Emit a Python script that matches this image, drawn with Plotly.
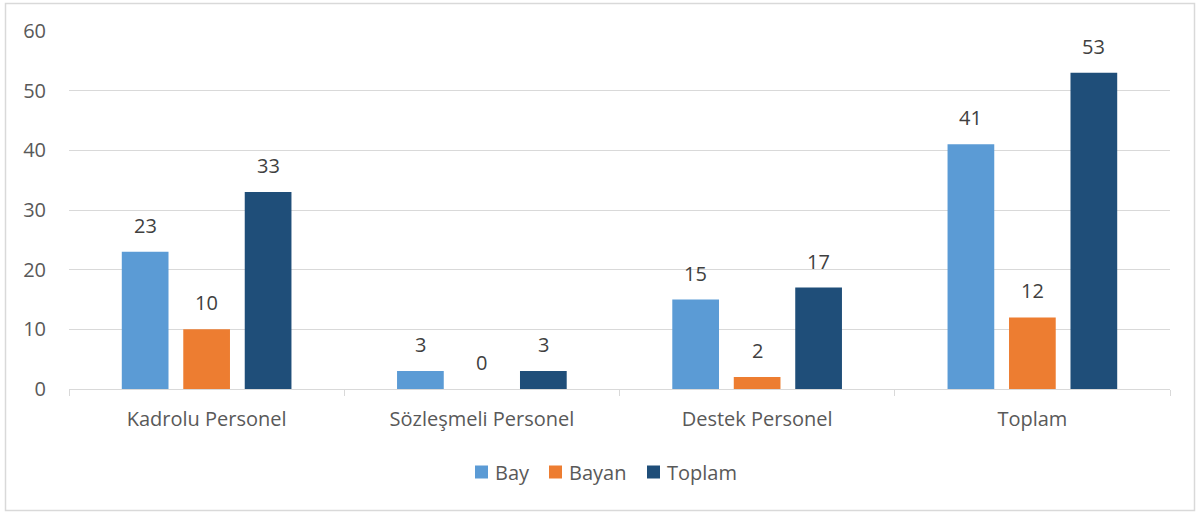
import plotly.graph_objects as go

categories = ["Kadrolu Personel", "Sözleşmeli Personel", "Destek Personel", "Toplam"]
bay = [23, 3, 15, 41]
bayan = [10, 0, 2, 12]
toplam = [33, 3, 17, 53]
series_names = ["Bay", "Bayan", "Toplam"]
colors = ["#5B9BD5", "#ED7D31", "#1F4E79"]

W, H = 1200, 514
L, R, T, B = 69, 30, 31, 125
pw, ph = W - L - R, H - T - B
BARGAP = 0.33
BARGROUPGAP = 0.24

font_family = "'Open Sans', sans-serif"

fig = go.Figure()
for name, vals, col in zip(series_names, [bay, bayan, toplam], colors):
    fig.add_trace(go.Bar(
        name=name, x=categories, y=vals, marker_color=col,
        marker_line_width=0, cliponaxis=False, showlegend=False,
    ))

def px2paper_x(px):
    return (px - L) / pw

def px2paper_y(py):
    return (H - B - py) / ph

# data labels as annotations (offset to each bar's slot in the group)
cat_px = pw / len(categories)
slot_px = cat_px * (1 - BARGAP) / len(series_names)
annotations = []
for i, vals in enumerate([bay, bayan, toplam]):
    for c, v in zip(categories, vals):
        annotations.append(dict(
            x=c, y=v, xref="x", yref="y", text=str(v), showarrow=False,
            xshift=(i - 1) * slot_px, yshift=11, yanchor="bottom",
            font=dict(size=20, color="#404040", family=font_family),
        ))

# manual legend (Excel-like compact layout)
legend_x = [475, 549, 647]
shapes = []
for name, col, lx in zip(series_names, colors, legend_x):
    shapes.append(dict(
        type="rect", xref="paper", yref="paper",
        x0=px2paper_x(lx), x1=px2paper_x(lx + 13),
        y0=px2paper_y(478.5), y1=px2paper_y(465.5),
        fillcolor=col, line=dict(width=0),
    ))
    annotations.append(dict(
        x=px2paper_x(lx + 18), y=px2paper_y(472), xref="paper", yref="paper",
        text=name, showarrow=False, xanchor="left", yanchor="middle",
        font=dict(size=20, color="#595959", family=font_family),
    ))

shapes.append(dict(
    type="rect", xref="paper", yref="paper",
    x0=px2paper_x(5.5), x1=px2paper_x(1194.5), y0=px2paper_y(510.5), y1=px2paper_y(3.5),
    line=dict(color="#d9d9d9", width=1.5), fillcolor="rgba(0,0,0,0)", layer="below",
))

fig.update_layout(
    width=W, height=H,
    margin=dict(l=L, r=R, t=T, b=B, pad=0),
    paper_bgcolor="white", plot_bgcolor="white",
    barmode="group", bargap=BARGAP, bargroupgap=BARGROUPGAP,
    font=dict(family=font_family, size=20, color="#595959"),
    showlegend=False,
    xaxis=dict(
        type="category", showgrid=False, showline=True, linecolor="#d9d9d9", linewidth=1,
        ticks="outside", tickson="boundaries", ticklen=6, tickcolor="#d9d9d9",
        tickfont=dict(size=20, color="#595959"), ticklabelstandoff=12,
    ),
    yaxis=dict(
        range=[0, 60], dtick=10, showgrid=True, gridcolor="#d9d9d9", gridwidth=1,
        zeroline=False, showline=False, ticks="", ticklen=0,
        tickfont=dict(size=20, color="#595959"), ticklabelstandoff=22,
    ),
    annotations=annotations,
    shapes=shapes,
)

fig.write_html("out.html", config={"displayModeBar": False},
               post_script="document.body.style.margin='0';document.body.style.overflow='hidden';")
